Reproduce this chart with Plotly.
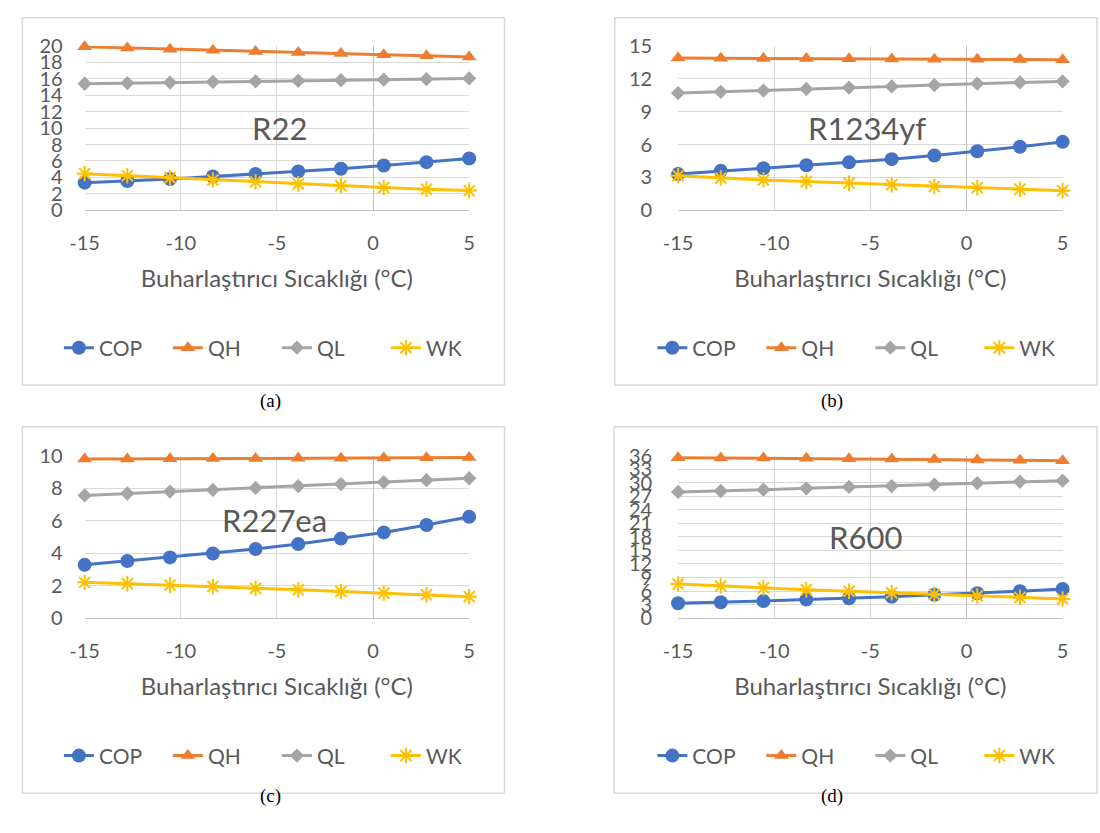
import plotly.graph_objects as go

# ---------------- data ----------------
temps = [-15, -12.78, -10.56, -8.33, -6.11, -3.89, -1.67, 0.56, 2.78, 5]
x_tick_vals = [-15, -10, -5, 0, 5]
x_tick_text = ["-15", "-10", "-5", "0", "5"]
series_names = ["COP", "QH", "QL", "WK"]

r22_cop = [3.35, 3.55, 3.8, 4.1, 4.4, 4.72, 5.05, 5.45, 5.85, 6.3]
r22_qh = [19.9, 19.75, 19.6, 19.48, 19.34, 19.2, 19.08, 18.94, 18.8, 18.66]
r22_ql = [15.4, 15.48, 15.55, 15.62, 15.7, 15.77, 15.84, 15.9, 15.97, 16.05]
r22_wk = [4.45, 4.2, 3.95, 3.68, 3.45, 3.2, 2.97, 2.76, 2.56, 2.38]

r1234yf_cop = [3.3, 3.59, 3.83, 4.1, 4.37, 4.66, 4.99, 5.38, 5.79, 6.24]
r1234yf_qh = [13.9, 13.88, 13.87, 13.85, 13.83, 13.82, 13.8, 13.78, 13.77, 13.75]
r1234yf_ql = [10.7, 10.81, 10.93, 11.07, 11.2, 11.31, 11.43, 11.57, 11.67, 11.76]
r1234yf_wk = [3.15, 2.94, 2.76, 2.61, 2.47, 2.32, 2.17, 2.05, 1.9, 1.78]

r227ea_cop = [3.28, 3.52, 3.74, 3.98, 4.26, 4.56, 4.9, 5.28, 5.74, 6.24]
r227ea_qh = [9.8, 9.81, 9.82, 9.83, 9.84, 9.85, 9.86, 9.87, 9.88, 9.9]
r227ea_ql = [7.56, 7.68, 7.8, 7.9, 8.02, 8.14, 8.26, 8.38, 8.5, 8.62]
r227ea_wk = [2.2, 2.12, 2.03, 1.94, 1.84, 1.74, 1.63, 1.53, 1.43, 1.32]

r600_cop = [3.3, 3.5, 3.8, 4.1, 4.4, 4.74, 5.17, 5.5, 5.96, 6.47]
r600_qh = [35.6, 35.55, 35.5, 35.45, 35.35, 35.3, 35.2, 35.1, 35.0, 34.9]
r600_ql = [28.0, 28.2, 28.5, 28.8, 29.1, 29.3, 29.6, 29.95, 30.25, 30.5]
r600_wk = [7.54, 7.1, 6.7, 6.3, 5.95, 5.6, 5.25, 4.9, 4.55, 4.24]

panel_names = ["R22", "R1234yf", "R227ea", "R600"]
panel_captions = ["(a)", "(b)", "(c)", "(d)"]
panel_data = [
    [r22_cop, r22_qh, r22_ql, r22_wk],
    [r1234yf_cop, r1234yf_qh, r1234yf_ql, r1234yf_wk],
    [r227ea_cop, r227ea_qh, r227ea_ql, r227ea_wk],
    [r600_cop, r600_qh, r600_ql, r600_wk],
]
y_max = [20, 15, 10, 36]
y_step = [2, 3, 2, 3]
x_title = "Buharlaştırıcı Sıcaklığı (°C)"
# label positions (data coords) of the refrigerant names
name_pos = [(-4.85, 10.0), (-5.2, 7.55), (-5.1, 6.05), (-5.25, 17.9)]

# ---------------- style ----------------
W, H = 1100, 833
colors = ["#4472C4", "#ED7D31", "#A5A5A5", "#FFC000"]
symbols = ["circle", "triangle-up", "diamond", "asterisk-open"]
msizes = [14, 13, 11, 13]
font_fam = "Lato"
txt_col = "#595959"

# pixel layout (left, right, top, bottom) of the plot areas
plot_px = [(71, 463, 34, 203), (676, 1068, 34, 203),
           (71, 463, 456, 623), (676, 1068, 456, 623)]
box_px = [(7.5, 499, 5, 383), (611.5, 1103, 5, 383),
          (7.5, 499, 426, 803.5), (610.5, 1103, 426, 803.5)]
ylab_gap = [21, 25, 21, 25]

def px_x(v):
    return v / W

def px_y(v):
    return 1 - v / H

fig = go.Figure()
layout = dict(width=W, height=H, autosize=False,
              margin=dict(l=0, r=0, t=0, b=0),
              paper_bgcolor="white", plot_bgcolor="white",
              showlegend=True, shapes=[], annotations=[])

for i in range(4):
    ax = "" if i == 0 else str(i + 1)
    leg = "legend" if i == 0 else "legend" + str(i + 1)
    for s in range(4):
        sym = symbols[s]
        mk = dict(symbol=sym, size=msizes[s], color=colors[s],
                  line=dict(color=colors[s], width=2 if "open" in sym else 0))
        fig.add_trace(go.Scatter(
            x=temps, y=panel_data[i][s], name=series_names[s],
            mode="lines+markers", line=dict(color=colors[s], width=3),
            marker=mk, xaxis="x" + ax, yaxis="y" + ax, legend=leg,
            cliponaxis=False))
    l, r, t, b = plot_px[i]
    layout["xaxis" + ax] = dict(
        domain=[px_x(l), px_x(r)], anchor="y" + ax, range=[-15, 5],
        tickmode="array", tickvals=x_tick_vals, ticktext=x_tick_text,
        showgrid=True, gridcolor="#D9D9D9", gridwidth=1,
        zeroline=True, zerolinecolor="#BFBFBF", zerolinewidth=1,
        showline=False, ticks="", ticklabelstandoff=19,
        tickfont=dict(family=font_fam, size=20, color=txt_col),
        title=dict(text=x_title, standoff=17,
                   font=dict(family=font_fam, size=24, color=txt_col)),
        fixedrange=True)
    layout["yaxis" + ax] = dict(
        domain=[px_y(b), px_y(t)], anchor="x" + ax, range=[0, y_max[i]],
        tick0=0, dtick=y_step[i], showgrid=True, gridcolor="#D9D9D9",
        gridwidth=1, zeroline=True, zerolinecolor="#BFBFBF",
        zerolinewidth=1, showline=False, ticks="",
        ticklabelstandoff=ylab_gap[i],
        tickfont=dict(family=font_fam, size=20, color=txt_col),
        fixedrange=True)
    layout[leg] = dict(
        orientation="h", x=px_x((l + r) / 2), xanchor="center",
        y=px_y(b + 142), yanchor="middle", bgcolor="rgba(0,0,0,0)",
        entrywidth=64, entrywidthmode="pixels",
        font=dict(family=font_fam, size=21, color=txt_col),
        itemclick=False, itemdoubleclick=False)
    bl, br, bt, bb = box_px[i]
    layout["shapes"].append(dict(
        type="rect", xref="paper", yref="paper",
        x0=px_x(bl), x1=px_x(br), y0=px_y(bb), y1=px_y(bt),
        line=dict(color="#D9D9D9", width=1.5), fillcolor="rgba(0,0,0,0)",
        layer="below"))
    nx, ny = name_pos[i]
    layout["annotations"].append(dict(
        text=panel_names[i], x=nx, y=ny, xref="x" + ax, yref="y" + ax,
        showarrow=False, font=dict(family=font_fam, size=31, color=txt_col)))
    cap_x = 248 if i % 2 == 0 else 846
    cap_y = 399 if i < 2 else 820
    layout["annotations"].append(dict(
        text=panel_captions[i], x=px_x(cap_x), y=px_y(cap_y),
        xref="paper", yref="paper", showarrow=False,
        font=dict(family="Liberation Serif", size=19, color="black")))

fig.update_layout(**layout)
fig.write_html("out.html",
               config={"displayModeBar": False, "staticPlot": False},
               post_script="document.body.style.margin='0px';"
                           "document.body.style.overflow='hidden';")
